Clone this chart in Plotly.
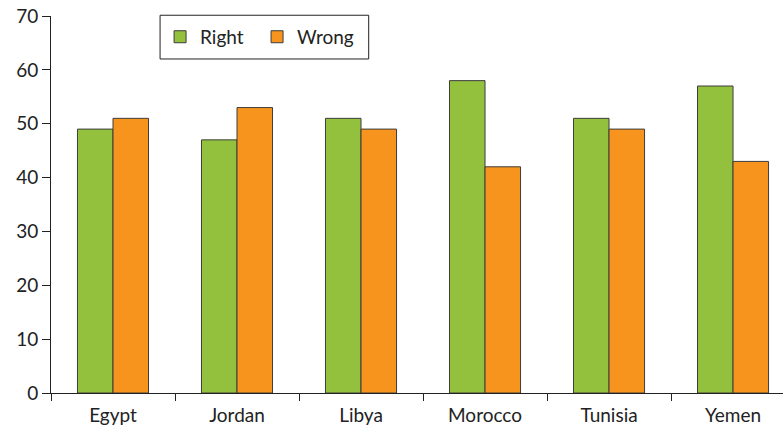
import plotly.graph_objects as go

countries = ["Egypt", "Jordan", "Libya", "Morocco", "Tunisia", "Yemen"]
right = [49, 47, 51, 58, 51, 57]
wrong = [51, 53, 49, 42, 49, 43]
y_ticks = [0, 10, 20, 30, 40, 50, 60, 70]

GREEN = "#93C13E"
ORANGE = "#F7941D"
EDGE = "#3d3d3d"
FONT = "Lato"

fig = go.Figure()
fig.add_trace(go.Bar(x=countries, y=right, name="Right", legend="legend",
                     marker=dict(color=GREEN, line=dict(color=EDGE, width=1))))
fig.add_trace(go.Bar(x=countries, y=wrong, name="Wrong", legend="legend2",
                     marker=dict(color=ORANGE, line=dict(color=EDGE, width=1))))

# framed legend box
fig.add_shape(type="rect", xref="paper", yref="paper",
              x0=0.149, x1=0.434, y0=0.886, y1=1.002,
              line=dict(color="#222222", width=1), fillcolor="rgba(0,0,0,0)")

legend_style = dict(orientation="h", y=0.995, xanchor="left", yanchor="top",
                    bgcolor="rgba(0,0,0,0)", borderwidth=0,
                    font=dict(family=FONT, size=19))

fig.update_layout(
    width=783, height=429,
    margin=dict(l=51, r=0, t=16, b=36),
    paper_bgcolor="white", plot_bgcolor="white",
    barmode="group", bargap=0.427, bargroupgap=0,
    font=dict(family=FONT, size=19, color="#222222"),
    showlegend=True,
    legend=dict(x=0.149, **legend_style),
    legend2=dict(x=0.2815, **legend_style),
    xaxis=dict(range=[-0.5, 5.403], showline=True, linecolor="#222222", linewidth=1,
               ticks="outside", tickson="boundaries", ticklen=7, tickcolor="#222222",
               ticklabelstandoff=5, automargin=False,
               showgrid=False, zeroline=False, fixedrange=True),
    yaxis=dict(range=[0, 70], tickvals=y_ticks, showline=True, linecolor="#222222",
               linewidth=1, ticks="outside", ticklen=8, tickcolor="#222222",
               showgrid=False, zeroline=False),
)

fig.write_html("out.html")
